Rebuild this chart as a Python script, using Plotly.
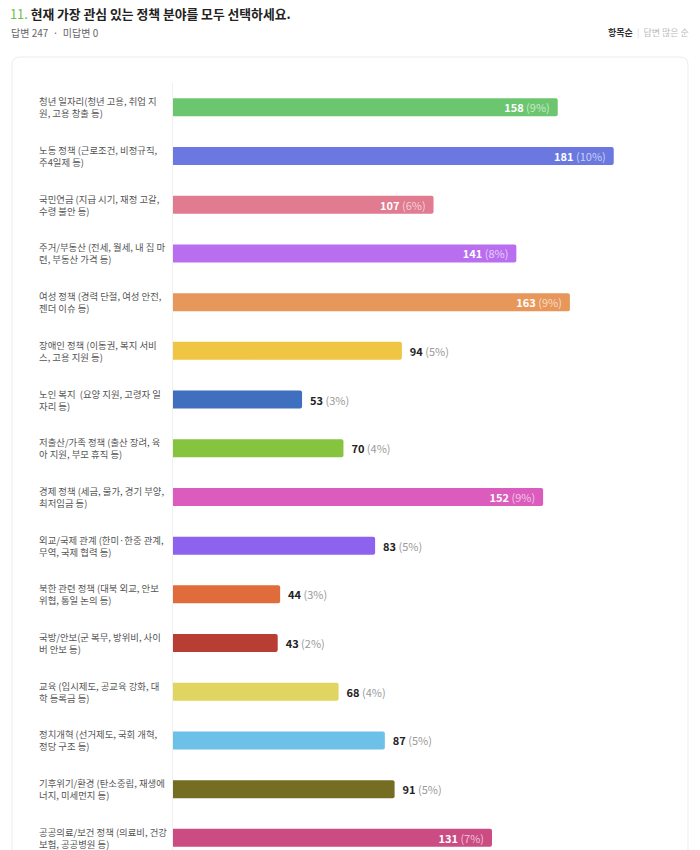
"""
Horizontal bar chart: 관심 정책 분야 (복수 선택)
"""

import plotly.graph_objs as go

categories = [
    "청년 일자리(청년 고용, 취업 지<br>원, 고용 창출 등)",
    "노동 정책 (근로조건, 비정규직,<br>주4일제 등)",
    "국민연금 (지급 시기, 재정 고갈,<br>수령 불안 등)",
    "주거/부동산 (전세, 월세, 내 집 마<br>련, 부동산 가격 등)",
    "여성 정책 (경력 단절, 여성 안전,<br>젠더 이슈 등)",
    "장애인 정책 (이동권, 복지 서비<br>스, 고용 지원 등)",
    "노인 복지  (요양 지원, 고령자 일<br>자리 등)",
    "저출산/가족 정책 (출산 장려, 육<br>아 지원, 부모 휴직 등)",
    "경제 정책 (세금, 물가, 경기 부양,<br>최저임금 등)",
    "외교/국제 관계 (한미·한중 관계,<br>무역, 국제 협력 등)",
    "북한 관련 정책 (대북 외교, 안보<br>위협, 통일 논의 등)",
    "국방/안보(군 복무, 방위비, 사이<br>버 안보 등)",
    "교육 (입시제도, 공교육 강화, 대<br>학 등록금 등)",
    "정치개혁 (선거제도, 국회 개혁,<br>정당 구조 등)",
    "기후위기/환경 (탄소중립, 재생에<br>너지, 미세먼지 등)",
    "공공의료/보건 정책 (의료비, 건강<br>보험, 공공병원 등)",
]
counts = [158, 181, 107, 141, 163, 94, 53, 70, 152, 83, 44, 43, 68, 87, 91, 131]
percents = [9, 10, 6, 8, 9, 5, 3, 4, 9, 5, 3, 2, 4, 5, 5, 7]
colors = [
    "#6cc66f", "#6a78e0", "#e07b90", "#b96ef0", "#e8975a", "#efc543",
    "#3f6fbe", "#86c43f", "#db5cbc", "#8d62ee", "#e06b3b", "#b83e33",
    "#dfd560", "#6dc1e8", "#756e22", "#cb4b83",
]

title_text = "현재 가장 관심 있는 정책 분야를 모두 선택하세요."
answered = 247
unanswered = 0

FONT = "Noto Sans CJK KR"
OFF = 8  # page body margin
W, H = 692, 842
ML, MR, MT, MB = 165, 40, 75, 0
PW, PH = W - ML - MR, H - MT - MB
INSIDE_MIN = 100


def px_x(sx):
    return (sx - OFF - ML) / PW


def px_y(sy):
    return (H - (sy - OFF)) / PH


texts, positions, tcolors = [], [], []
for c, p in zip(counts, percents):
    if c >= INSIDE_MIN:
        texts.append("<b>%d</b> <span style='color:rgba(255,255,255,0.65)'>(%d%%)</span>&nbsp;&nbsp;" % (c, p))
        positions.append("inside")
        tcolors.append("#ffffff")
    else:
        texts.append("&nbsp;&nbsp;<b>%d</b> <span style='color:#9a9a9a'>(%d%%)</span>" % (c, p))
        positions.append("outside")
        tcolors.append("#222222")

trace = go.Bar(
    y=categories,
    x=counts,
    orientation="h",
    marker=dict(color=colors, cornerradius=2, line=dict(width=0)),
    text=texts,
    textposition=positions,
    insidetextanchor="end",
    textfont=dict(family=FONT, size=11, color=tcolors),
    constraintext="none",
    cliponaxis=False,
    hoverinfo="skip",
)

annotations = []
for cat in categories:
    annotations.append(dict(
        x=px_x(38), xref="paper", y=cat, yref="y",
        text=cat, showarrow=False, align="left",
        xanchor="left", yanchor="middle", borderpad=0,
        font=dict(family=FONT, size=9.4, color="#555555"),
    ))

annotations += [
    dict(x=px_x(9), xref="paper", y=px_y(13), yref="paper",
         text="<span style='color:#6cbf4a'>11.</span> <b>" + title_text + "</b>",
         showarrow=False, xanchor="left", yanchor="middle", borderpad=0,
         font=dict(family=FONT, size=12.8, color="#222222")),
    dict(x=px_x(9), xref="paper", y=px_y(33), yref="paper",
         text="답변 %d  ·  미답변 %d" % (answered, unanswered),
         showarrow=False, xanchor="left", yanchor="middle",
         font=dict(family=FONT, size=10, color="#666666")),
    dict(x=px_x(691), xref="paper", y=px_y(33), yref="paper",
         text="<b>항목순</b>  <span style='color:#dddddd'>|</span>  <span style='color:#bbbbbb'>답변 많은 순</span>",
         showarrow=False, xanchor="right", yanchor="middle",
         font=dict(family=FONT, size=9, color="#333333")),
]

# card frame
x0, x1, y0, y1, r = 12, 688, 57, 880, 8
card = dict(
    type="path", xref="paper", yref="paper", layer="below",
    path="M %f,%f L %f,%f Q %f,%f %f,%f L %f,%f Q %f,%f %f,%f L %f,%f Z" % (
        px_x(x0), px_y(y1),
        px_x(x0), px_y(y0 + r),
        px_x(x0), px_y(y0), px_x(x0 + r), px_y(y0),
        px_x(x1 - r), px_y(y0),
        px_x(x1), px_y(y0), px_x(x1), px_y(y0 + r),
        px_x(x1), px_y(y1),
    ),
    line=dict(color="#ececec", width=1), fillcolor="white",
)

layout = go.Layout(
    width=W, height=H,
    margin=dict(l=ML, r=MR, t=MT, b=MB),
    paper_bgcolor="white", plot_bgcolor="rgba(0,0,0,0)",
    bargap=0.63,
    showlegend=False,
    xaxis=dict(range=[0, 200], visible=False, fixedrange=True),
    yaxis=dict(
        type="category",
        range=[-0.5 + PH / 48.7, -0.5],
        showticklabels=False, showgrid=False, zeroline=False,
        showline=True, linecolor="#f0f0f0", linewidth=1,
        fixedrange=True,
    ),
    annotations=annotations,
    shapes=[card],
)

fig = go.Figure(data=[trace], layout=layout)
fig.write_html("out.html")
